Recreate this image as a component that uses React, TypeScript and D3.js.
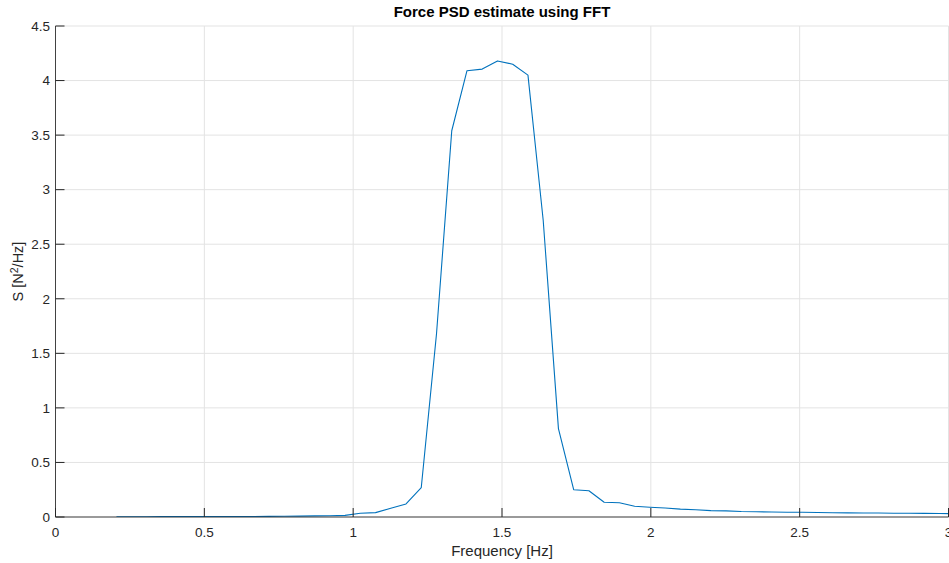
import React from "react";
import * as d3 from "d3";

const frequencies = [
  0.2048, 0.256, 0.3072, 0.3584, 0.4096, 0.4608, 0.512, 0.5632, 0.6144, 0.6656,
  0.7168, 0.768, 0.8192, 0.8704, 0.9216, 0.9728, 1.024, 1.0752, 1.1264, 1.1776,
  1.2288, 1.28, 1.3312, 1.3824, 1.4336, 1.4848, 1.536, 1.5872, 1.6384, 1.6896,
  1.7408, 1.792, 1.8432, 1.8944, 1.9456, 1.9968, 2.048, 2.0992, 2.1504, 2.2016,
  2.2528, 2.304, 2.3552, 2.4064, 2.4576, 2.5088, 2.56, 2.6112, 2.6624, 2.7136,
  2.7648, 2.816, 2.8672, 2.9184, 2.9696, 3.0208,
];

const psdValues = [
  0.002, 0.002, 0.002, 0.003, 0.003, 0.003, 0.004, 0.004, 0.005, 0.005,
  0.006, 0.007, 0.008, 0.01, 0.012, 0.015, 0.035, 0.04, 0.08, 0.12,
  0.27, 1.68, 3.54, 4.09, 4.105, 4.18, 4.15, 4.05, 2.72, 0.81,
  0.25, 0.24, 0.135, 0.131, 0.098, 0.089, 0.082, 0.072, 0.066, 0.058,
  0.056, 0.05, 0.048, 0.046, 0.044, 0.043, 0.041, 0.039, 0.038, 0.037,
  0.036, 0.035, 0.034, 0.033, 0.032, 0.031,
];

const xTicks = [0, 0.5, 1, 1.5, 2, 2.5, 3];
const yTicks = [0, 0.5, 1, 1.5, 2, 2.5, 3, 3.5, 4, 4.5];

const W = 949;
const H = 563;
const left = 55.5;
const right = 948.5;
const top = 26;
const bottom = 517;

export default function App() {
  const x = d3.scaleLinear().domain([0, 3]).range([left, right]);
  const y = d3.scaleLinear().domain([0, 4.5]).range([bottom, top]);
  const data = frequencies.map((f, i) => [f, psdValues[i]] as [number, number]);
  const line = d3
    .line<[number, number]>()
    .x((d) => x(d[0]))
    .y((d) => y(d[1]));
  const axisColor = "#262626";
  const gridColor = "#e3e3e3";
  const font = "'Liberation Sans', Arial, Helvetica, sans-serif";
  const tickLen = 9;

  return (
    <div style={{ position: "absolute", left: 0, top: 0 }}>
      <svg width={W} height={H} style={{ display: "block", background: "#fff" }} fontFamily={font}>
        <defs>
          <clipPath id="plotclip">
            <rect x={left} y={top} width={right - left} height={bottom - top} />
          </clipPath>
        </defs>
        {xTicks.map((t) => (
          <line key={"gx" + t} x1={x(t)} x2={x(t)} y1={top} y2={bottom} stroke={gridColor} strokeWidth={1} />
        ))}
        {yTicks.map((t) => (
          <line key={"gy" + t} x1={left} x2={right} y1={y(t)} y2={y(t)} stroke={gridColor} strokeWidth={1} />
        ))}
        <path
          d={line(data) || ""}
          fill="none"
          stroke="#0072BD"
          strokeWidth={1.1}
          strokeLinejoin="round"
          clipPath="url(#plotclip)"
        />
        <line x1={left} x2={right} y1={bottom} y2={bottom} stroke={axisColor} strokeWidth={1} opacity={0.85} />
        <line x1={left} x2={left} y1={top} y2={bottom} stroke={axisColor} strokeWidth={1} opacity={0.85} />
        {xTicks.map((t) => (
          <g key={"xt" + t}>
            <line x1={x(t)} x2={x(t)} y1={bottom} y2={bottom - tickLen} stroke={axisColor} strokeWidth={1} />
            <text x={x(t)} y={537} textAnchor="middle" fontSize={13.5} fill={axisColor}>
              {String(t)}
            </text>
          </g>
        ))}
        {yTicks.map((t) => (
          <g key={"yt" + t}>
            <line x1={left} x2={left + tickLen} y1={y(t)} y2={y(t)} stroke={axisColor} strokeWidth={1} />
            <text x={50} y={y(t)} dy="0.35em" textAnchor="end" fontSize={13.5} fill={axisColor}>
              {String(t)}
            </text>
          </g>
        ))}
        <text x={(left + right) / 2} y={17} textAnchor="middle" fontSize={15} fontWeight="bold" fill="#000">
          Force PSD estimate using FFT
        </text>
        <text x={(left + right) / 2} y={556} textAnchor="middle" fontSize={15} fill={axisColor}>
          Frequency [Hz]
        </text>
        <text
          transform={`translate(23, ${(top + bottom) / 2}) rotate(-90)`}
          textAnchor="middle"
          fontSize={14.5}
          fill={axisColor}
        >
          S [N
          <tspan dy={-5} fontSize={10.5}>2</tspan>
          <tspan dy={5}>/Hz]</tspan>
        </text>
      </svg>
    </div>
  );
}
